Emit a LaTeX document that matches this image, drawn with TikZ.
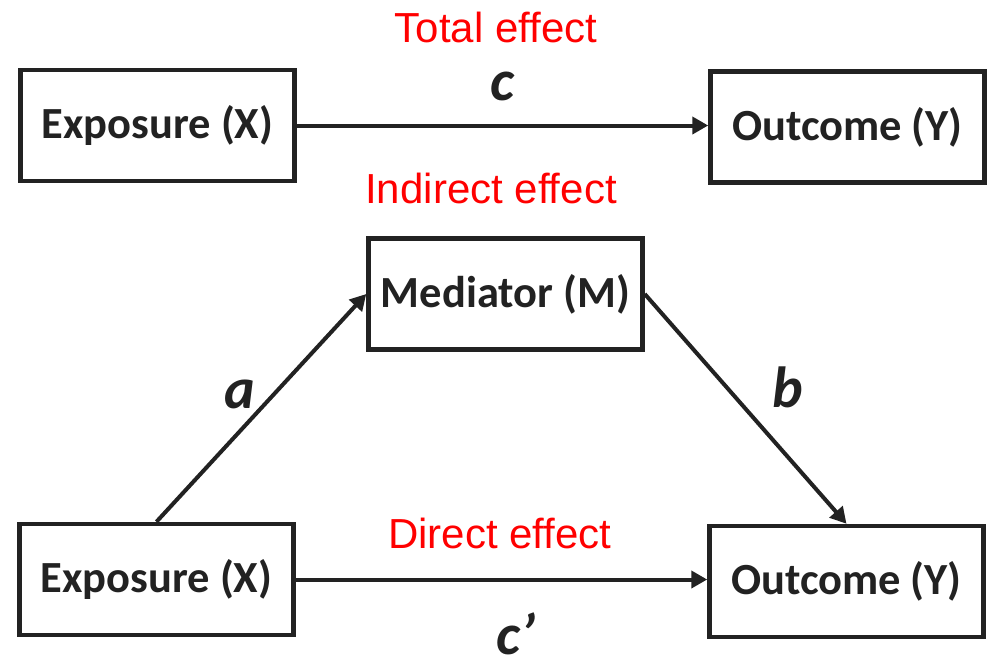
\documentclass[tikz,border=0pt]{standalone}
\usepackage{fontspec}
\setmainfont{Carlito}
\newfontfamily\redfont{Liberation Sans}
\usetikzlibrary{arrows.meta}
\definecolor{boxcol}{HTML}{222222}
\begin{document}
\begin{tikzpicture}[x=1pt,y=-1pt,
  box/.style={draw=boxcol, line width=4.5pt, minimum width=274pt, minimum height=111pt, inner sep=0pt, font=\fontsize{44.5}{52}\selectfont\bfseries, text=boxcol},
  lbl/.style={font=\redfont\fontsize{42}{50}\selectfont, text=red, anchor=base, inner sep=0pt},
  coef/.style={font=\fontsize{58}{64}\selectfont\bfseries\itshape, text=boxcol, anchor=base, inner sep=0pt},
  arr/.style={draw=boxcol, line width=4pt, -{Triangle[length=16pt,width=17pt]}}]
\useasboundingbox (0,0) rectangle (994,665);
\fill[white] (0,0) rectangle (994,665);
% boxes
\node[box] (TopX) at (157.5,125.5) {Exposure (X)};
\node[box] (TopY) at (847.5,127) {Outcome (Y)};
\node[box] (Med) at (505.5,294) {Mediator (M)};
\node[box] (BotX) at (156.5,579.5) {Exposure (X)};
\node[box] (BotY) at (846.5,581.5) {Outcome (Y)};
% red labels
\node[lbl] (tot) at (496,42) {Total effect};
\node[lbl] (ind) at (491,203) {Indirect effect};
\node[lbl] (dir) at (500,548) {Direct effect};
% coefficients
\node[coef] (c) at (502,100) {c};
\node[coef] (a) at (240,408) {a};
\node[coef] (b) at (788,407) {b};
\node[coef] (cp) at (516,654) {c’};
% arrows
\draw[arr] (TopX.east) -- (TopX.east -| TopY.west);
\draw[arr] (BotX.north) -- (Med.west);
\draw[arr] (Med.east) -- (BotY.north);
\draw[arr] (BotX.east) -- (BotX.east -| BotY.west);
\end{tikzpicture}
\end{document}
